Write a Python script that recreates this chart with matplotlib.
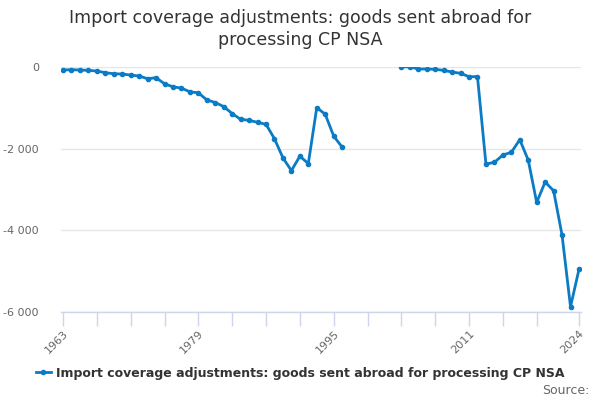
import numpy as np
import matplotlib
matplotlib.use("Agg")
import matplotlib.pyplot as plt
from matplotlib.ticker import FuncFormatter, FixedLocator

years = list(range(1963, 2025))
values = [
    -74, -66, -74, -82, -99, -140, -165, -173, -198, -222,      # 1963-1972
    -288, -263, -412, -486, -519, -609, -634, -807, -872, -971,  # 1973-1982
    -1144, -1284, -1309, -1358, -1407, -1761, -2230, -2543, -2189, -2370,  # 1983-1992
    -996, -1160, -1695, -1967,                                   # 1993-1996
    None, None, None, None, None, None,                          # 1997-2002
    0, 5, -49, -49, -57, -82, -123, -155, -237, -237,            # 2003-2012
    -2381, -2340, -2160, -2095, -1784, -2283, -3322, -2823, -3036, -4124,  # 2013-2022
    -5884, -4967,                                                # 2023-2024
]
series_name = "Import coverage adjustments: goods sent abroad for processing CP NSA"
title = "Import coverage adjustments: goods sent abroad for\nprocessing CP NSA"
label_years = [1963, 1979, 1995, 2011, 2024]
tick_years = list(range(1963, 2020, 4)) + [2024]
y_ticks = [0, -2000, -4000, -6000]

vals = np.array([np.nan if v is None else v for v in values], dtype=float)

fig = plt.figure(figsize=(6, 4), dpi=100)
ax = fig.add_axes([61/600, 1-311.5/400, 520/600, (311.5-67)/400])

color = "#0a7bc4"
line, = ax.plot(years, vals, color=color, lw=2, marker="o", ms=3, label=series_name)

ax.set_xlim(1962.76, 2024.24)
ax.set_ylim(-6000, 0)
ax.set_yticks(y_ticks)
ax.yaxis.set_major_formatter(FuncFormatter(lambda v, p: f"{int(v):,}".replace(",", " ")))
ax.grid(axis="y", color="#e6e6e6", lw=1)
ax.set_axisbelow(True)

ax.xaxis.set_major_locator(FixedLocator(tick_years))
ax.set_xticklabels([str(y) if y in label_years else "" for y in tick_years],
                   rotation=45, ha="right", rotation_mode="anchor")
ax.tick_params(axis="x", length=10, width=1, color="#ccd6eb", labelsize=8, labelcolor="#666666", pad=2)
ax.tick_params(axis="y", length=0, labelsize=8, labelcolor="#666666", pad=16)

for s in ["top", "right", "left"]:
    ax.spines[s].set_visible(False)
ax.spines["bottom"].set_color("#ccd6eb")
ax.spines["bottom"].set_linewidth(1)

fig.text(0.5, 1-9/400, title, ha="center", va="top", fontsize=12.5, color="#333333",
         linespacing=1.3)

leg = fig.legend(handles=[line], loc="center", bbox_to_anchor=(0.5, 1-373/400),
                 frameon=False, handlelength=1.2, handletextpad=0.4,
                 prop={"weight": "bold", "size": 9})
for t in leg.get_texts():
    t.set_color("#333333")

fig.text(0.982, 1-391/400, "Source:", ha="right", va="center", fontsize=9, color="#666666")

fig.savefig("out.png", dpi=100)
